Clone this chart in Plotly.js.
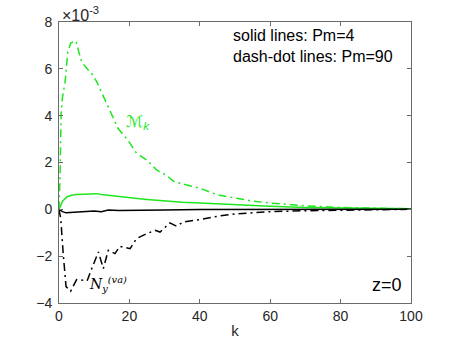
<!DOCTYPE html>
<html>
<head>
<meta charset="utf-8">
<script src="https://cdn.plot.ly/plotly-3.0.1.min.js"></script>
<style>
  html, body { margin: 0; padding: 0; background: #fff; }
  #plot { width: 455px; height: 342px; }
</style>
</head>
<body>
<div id="plot"></div>
<script>
// values in units of 1e-3

// M_k, Pm=90 (green dash-dot)
let kM90 = [0, 0.3, 0.6, 1, 1.7, 2.5, 3.3, 4.8, 5.5, 6.4, 8, 9.3, 10.7, 12.5, 14.5, 16.8, 19.6, 22, 25, 27.8, 30.6, 32.5, 36, 40, 45, 50, 55, 60, 65, 70, 80, 90, 100];
let vM90 = [0, 1.5, 4.1, 4.8, 5.4, 6.7, 7.1, 7.2, 6.8, 6.3, 6.0, 5.8, 5.45, 4.87, 4.16, 3.45, 2.95, 2.4, 2.1, 1.67, 1.45, 1.2, 1.05, 0.9, 0.62, 0.47, 0.35, 0.27, 0.2, 0.15, 0.08, 0.04, 0.02];

// M_k, Pm=4 (green solid)
let kM4 = [0, 1, 2.2, 3.5, 5, 7, 10.7, 12, 13.5, 17, 21, 25, 30.6, 35, 40, 45, 50, 60, 70, 80, 90, 100];
let vM4 = [0, 0.35, 0.53, 0.6, 0.63, 0.65, 0.67, 0.63, 0.6, 0.55, 0.48, 0.42, 0.35, 0.3, 0.27, 0.23, 0.2, 0.13, 0.08, 0.05, 0.03, 0.02];

// N_y^(va), Pm=4 (black solid)
let kN4 = [0, 1, 2, 4, 6, 8, 10, 12, 14, 17, 20, 25, 30, 40, 50, 60, 80, 100];
let vN4 = [0, -0.1, -0.15, -0.13, -0.08, -0.09, -0.07, -0.1, -0.03, -0.05, -0.04, -0.02, -0.03, -0.01, -0.01, 0, 0, 0];

// N_y^(va), Pm=90 (black dash-dot)
let kN90 = [0, 0.5, 1.2, 2, 3.3, 5, 6.9, 8, 9.3, 11.2, 12.6, 14, 15.9, 17.3, 20.2, 22, 24.9, 27.3, 28.7, 31.5, 33.4, 35.3, 40, 45.7, 50, 55, 60, 70, 80, 90, 100];
let vN90 = [0, -0.4, -1.9, -3.3, -3.5, -3.0, -3.03, -3.05, -2.53, -1.82, -2.53, -1.75, -1.89, -1.58, -1.68, -1.25, -1.04, -0.9, -0.97, -0.58, -0.72, -0.54, -0.44, -0.28, -0.2, -0.14, -0.1, -0.06, -0.03, -0.01, 0];

let yTicks = [-4, -2, 0, 2, 4, 6, 8];
let xTicks = [0, 20, 40, 60, 80, 100];

let green = '#1ee61e';
let dashDot = '8px,4px,2px,4px';

let traces = [
  { x: kM90, y: vM90, mode: 'lines', line: { color: green, width: 1.5, dash: dashDot } },
  { x: kM4, y: vM4, mode: 'lines', line: { color: green, width: 1.5 } },
  { x: kN90, y: vN90, mode: 'lines', line: { color: 'black', width: 1.5, dash: dashDot } },
  { x: kN4, y: vN4, mode: 'lines', line: { color: 'black', width: 1.5 } }
];

let axisCommon = {
  showline: true, mirror: 'ticks', linecolor: '#6b6b6b', linewidth: 1,
  ticks: 'inside', ticklen: 4, tickcolor: '#6b6b6b',
  showgrid: false, zeroline: false,
  tickfont: { family: 'Liberation Sans, Arial, sans-serif', size: 14, color: '#262626' }
};

let layout = {
  width: 455, height: 342,
  margin: { l: 59, r: 44, t: 22, b: 39 },
  paper_bgcolor: 'white', plot_bgcolor: 'white',
  showlegend: false,
  font: { family: 'Liberation Sans, Arial, sans-serif', color: '#262626' },
  xaxis: Object.assign({}, axisCommon, {
    range: [0, 100], tickvals: xTicks,
    title: { text: 'k', font: { size: 15, color: '#262626' }, standoff: 2 }
  }),
  yaxis: Object.assign({}, axisCommon, {
    range: [-4, 8], tickvals: yTicks, ticklabelstandoff: 3
  }),
  annotations: [
    { xref: 'paper', yref: 'paper', x: 0, y: 1, xanchor: 'left', yanchor: 'bottom',
      text: '×10<sup>-3</sup>', showarrow: false, font: { size: 16, color: '#262626' }, yshift: -4, xshift: 1 },
    { xref: 'paper', yref: 'paper', x: 0.49, y: 0.99, xanchor: 'left', yanchor: 'top', align: 'left',
      text: 'solid lines: Pm=4<br>dash-dot lines: Pm=90', showarrow: false,
      font: { size: 16, color: 'black' } },
    { xref: 'paper', yref: 'paper', x: 0.98, y: 0.02, xanchor: 'right', yanchor: 'bottom',
      text: 'z=0', showarrow: false, font: { size: 18, color: 'black' } },
    { x: 18.5, y: 3.7, xanchor: 'left', yanchor: 'middle', showarrow: false,
      text: 'ℳ<sub><i>k</i></sub>', font: { family: 'DejaVu Sans, sans-serif', size: 16, color: green } },
    { x: 8, y: -3.2, xanchor: 'left', yanchor: 'middle', showarrow: false,
      text: '<i>N<sub>y</sub><sup>(va)</sup></i>', font: { family: 'DejaVu Serif, serif', size: 14, color: 'black' } }
  ]
};

Plotly.newPlot('plot', traces, layout, { staticPlot: true, displayModeBar: false });
</script>
</body>
</html>
